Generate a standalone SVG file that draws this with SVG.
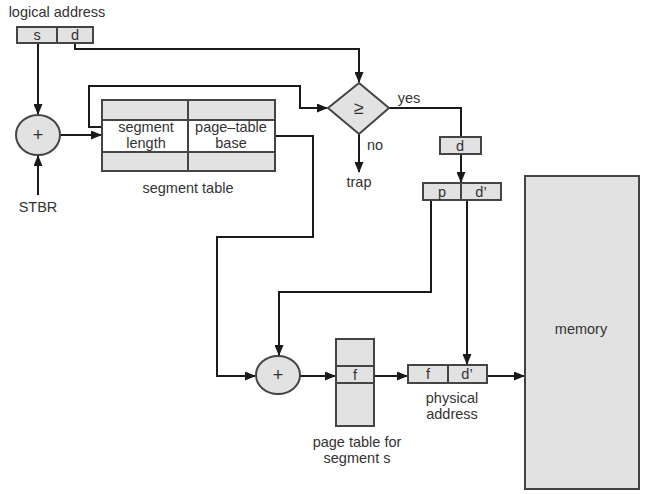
<svg xmlns="http://www.w3.org/2000/svg" width="647" height="494" viewBox="0 0 647 494">
<defs>
<marker id="ah" markerUnits="userSpaceOnUse" markerWidth="11" markerHeight="9" refX="10" refY="4.5" orient="auto">
<path d="M0,0 L11,4.5 L0,9 z" fill="#1a1a1a"/>
</marker>
<style>
text{font-family:"Liberation Sans",Arial,sans-serif;font-size:14.5px;fill:#333;text-anchor:middle}
.sym{font-size:18px}
.box{fill:#e2e2e2;stroke:#444;stroke-width:2}
.wbox{fill:#fff;stroke:#444;stroke-width:2}
.ln{fill:none;stroke:#1a1a1a;stroke-width:2}
.arr{fill:none;stroke:#1a1a1a;stroke-width:2;marker-end:url(#ah)}
</style>
</defs>
<rect width="647" height="494" fill="#fff"/>
<g id="connectors">
<path class="arr" d="M38,43 V114"/>
<path class="arr" d="M38,195 V156"/>
<path class="arr" d="M75,43 V49 H359 V82"/>
<path class="arr" d="M61,135 H101"/>
<path class="arr" d="M102,127 H89 V86 H300 V108 H327"/>
<path class="arr" d="M275,136 H313 V237 H217 V376 H255"/>
<path class="ln" d="M389,108 H461 V137"/>
<path class="arr" d="M359,134 V172"/>
<path class="arr" d="M461,154 V182"/>
<path class="arr" d="M431,200 V292 H279 V355"/>
<path class="arr" d="M467,200 V364"/>
<path class="arr" d="M300,376 H335"/>
<path class="arr" d="M374,376 H407"/>
<path class="arr" d="M487,376 H524"/>
</g>
<g id="logical-address">
<text x="57" y="17">logical address</text>
<rect class="box" x="17" y="27" width="76" height="16"/>
<line x1="57" y1="27" x2="57" y2="43" stroke="#444" stroke-width="2"/>
<text x="37" y="40">s</text>
<text x="75" y="40">d</text>
</g>
<g id="plus1">
<ellipse class="box" cx="38" cy="135" rx="22" ry="20"/>
<text class="sym" x="38" y="141">+</text>
</g>
<g id="stbr"><text x="38" y="212">STBR</text></g>
<g id="segment-table">
<rect class="box" x="102" y="100" width="173" height="71"/>
<rect class="wbox" x="102" y="120" width="173" height="32"/>
<line x1="188" y1="100" x2="188" y2="171" stroke="#444" stroke-width="2"/>
<text x="146" y="132">segment</text>
<text x="146" y="148">length</text>
<text x="231" y="132">page–table</text>
<text x="231" y="148">base</text>
<text x="188" y="193">segment table</text>
</g>
<g id="compare">
<path class="box" d="M359,83 L389,108 L359,134 L328,108 z"/>
<text class="sym" x="359" y="114">≥</text>
<text x="409" y="103">yes</text>
<text x="375" y="150">no</text>
<text x="359" y="187">trap</text>
</g>
<g id="d-box">
<rect class="box" x="440" y="137" width="41" height="17"/>
<text x="460" y="151">d</text>
</g>
<g id="pd-box">
<rect class="box" x="423" y="183" width="78" height="17"/>
<line x1="461" y1="183" x2="461" y2="200" stroke="#444" stroke-width="2"/>
<text x="442" y="197">p</text>
<text x="481" y="197">d’</text>
</g>
<g id="plus2">
<ellipse class="box" cx="278" cy="375" rx="22" ry="19"/>
<text class="sym" x="278" y="381">+</text>
</g>
<g id="page-table">
<rect class="box" x="336" y="339" width="38" height="87"/>
<rect class="box" x="336" y="366" width="38" height="17"/>
<text x="355" y="380">f</text>
<text x="357" y="447">page table for</text>
<text x="357" y="463">segment s</text>
</g>
<g id="physical-address">
<rect class="box" x="408" y="365" width="79" height="18"/>
<line x1="448" y1="365" x2="448" y2="383" stroke="#444" stroke-width="2"/>
<text x="428" y="379">f</text>
<text x="467" y="379">d’</text>
<text x="452" y="403">physical</text>
<text x="452" y="419">address</text>
</g>
<g id="memory">
<rect class="box" x="525" y="176" width="114" height="313"/>
<text x="581" y="334">memory</text>
</g>
</svg>
